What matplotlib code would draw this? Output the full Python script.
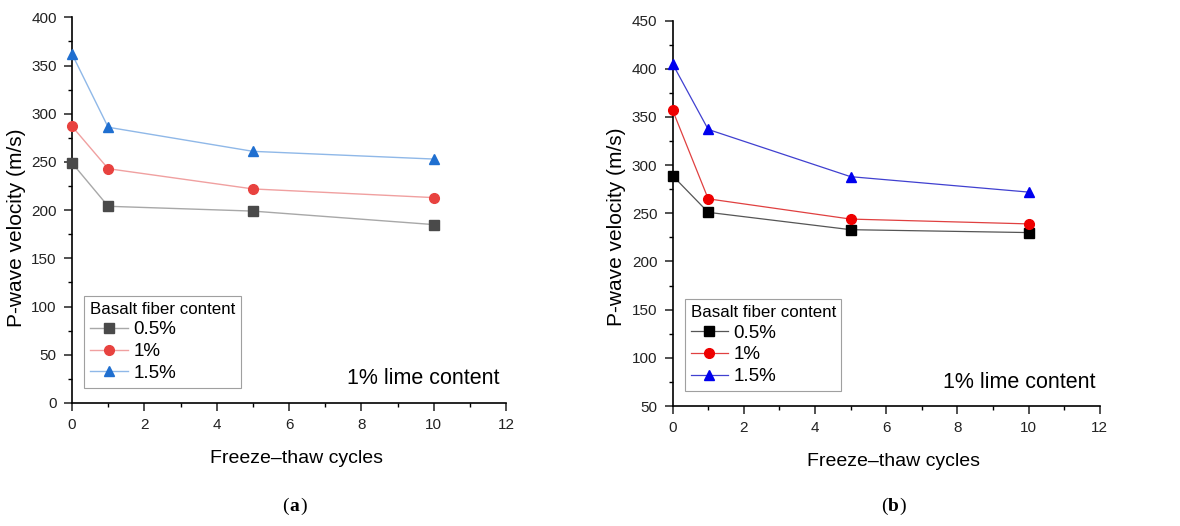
import matplotlib
matplotlib.use("Agg")
import matplotlib.pyplot as plt
from matplotlib.ticker import MultipleLocator

plt.rcParams['font.family'] = ['Liberation Sans', 'DejaVu Sans']

cycles = [0, 1, 5, 10]
labels = ["0.5%", "1%", "1.5%"]
# Panel (a)
a_05 = [249, 204, 199, 185]
a_10 = [287, 243, 222, 213]
a_15 = [362, 286, 261, 253]
# Panel (b)
b_05 = [289, 251, 233, 230]
b_10 = [357, 265, 244, 239]
b_15 = [405, 337, 288, 272]

fig = plt.figure(figsize=(11.8, 5.26), dpi=100)

def style_axes(ax, ylim, ymajor, ylab_xy):
    ax.set_xlim(0, 12)
    ax.set_ylim(*ylim)
    ax.xaxis.set_major_locator(MultipleLocator(2))
    ax.xaxis.set_minor_locator(MultipleLocator(1))
    ax.yaxis.set_major_locator(MultipleLocator(ymajor))
    ax.yaxis.set_minor_locator(MultipleLocator(ymajor / 2))
    for s in ['top', 'right']:
        ax.spines[s].set_visible(False)
    for s in ['left', 'bottom']:
        ax.spines[s].set_linewidth(1.2)
    ax.tick_params(which='major', direction='out', length=6, width=1.1, pad=5, labelsize=11, colors='#222222')
    ax.tick_params(which='minor', direction='out', length=3, width=1.0)
    ax.set_xlabel("Freeze\u2013thaw cycles", fontsize=14, labelpad=13)
    ax.set_ylabel("P-wave velocity (m/s)", fontsize=15)
    ax.yaxis.set_label_coords(*ylab_xy)
    for lab in ax.get_xticklabels() + ax.get_yticklabels():
        lab.set_color('#222222')

def add_legend(ax):
    leg = ax.legend(title="Basalt fiber content", loc='lower left', bbox_to_anchor=(0.02, 0.03),
                    fontsize=13.5, title_fontsize=12.2, frameon=True, fancybox=False,
                    edgecolor='#888888', borderpad=0.3, labelspacing=0.25, handlelength=2.0,
                    handletextpad=0.3, borderaxespad=0.2)
    leg._legend_box.align = "left"
    leg.get_frame().set_linewidth(0.8)
    return leg

# Panel (a)
ax1 = fig.add_axes([0.061, 0.234, 0.368, 0.733])
ax1.plot(cycles, a_05, color='#a8a8a8', lw=1.0, marker='s', ms=6.5, mfc='#4a4a4a', mec='#4a4a4a', label=labels[0], clip_on=False, zorder=3)
ax1.plot(cycles, a_10, color='#f0a0a0', lw=1.0, marker='o', ms=7, mfc='#e8423f', mec='#e8423f', label=labels[1], clip_on=False, zorder=3)
ax1.plot(cycles, a_15, color='#8fb8e8', lw=1.0, marker='^', ms=7.5, mfc='#1f6fd0', mec='#1f6fd0', label=labels[2], clip_on=False, zorder=3)
style_axes(ax1, (0, 400), 50, (-0.106, 0.455))
add_legend(ax1)
ax1.text(0.985, 0.035, "1% lime content", transform=ax1.transAxes, ha='right', va='bottom', fontsize=15.5)

# Panel (b)
ax2 = fig.add_axes([0.570, 0.228, 0.362, 0.733])
ax2.plot(cycles, b_05, color='#555555', lw=0.9, marker='s', ms=6.5, mfc='#000000', mec='#000000', label=labels[0], clip_on=False, zorder=3)
ax2.plot(cycles, b_10, color='#e04040', lw=0.9, marker='o', ms=7, mfc='#ee0000', mec='#ee0000', label=labels[1], clip_on=False, zorder=3)
ax2.plot(cycles, b_15, color='#4040d0', lw=0.9, marker='^', ms=7.5, mfc='#0000ee', mec='#0000ee', label=labels[2], clip_on=False, zorder=3)
style_axes(ax2, (50, 450), 50, (-0.108, 0.465))
add_legend(ax2)
ax2.text(0.99, 0.035, "1% lime content", transform=ax2.transAxes, ha='right', va='bottom', fontsize=15.5)

# shift x labels slightly right like the reference
for ax in (ax1, ax2):
    ax.xaxis.label.set_x(0.518)

# Sub-figure captions
fig.text(0.245, 0.038, "(", fontsize=14, family=['Liberation Serif'], ha='right', va='center')
fig.text(0.245, 0.038, "a", fontsize=14, family=['Liberation Serif'], weight='bold', ha='left', va='center')
fig.text(0.2545, 0.038, ")", fontsize=14, family=['Liberation Serif'], ha='left', va='center')
fig.text(0.752, 0.038, "(", fontsize=14, family=['Liberation Serif'], ha='right', va='center')
fig.text(0.752, 0.038, "b", fontsize=14, family=['Liberation Serif'], weight='bold', ha='left', va='center')
fig.text(0.7625, 0.038, ")", fontsize=14, family=['Liberation Serif'], ha='left', va='center')

fig.savefig("out.png", dpi=100)
